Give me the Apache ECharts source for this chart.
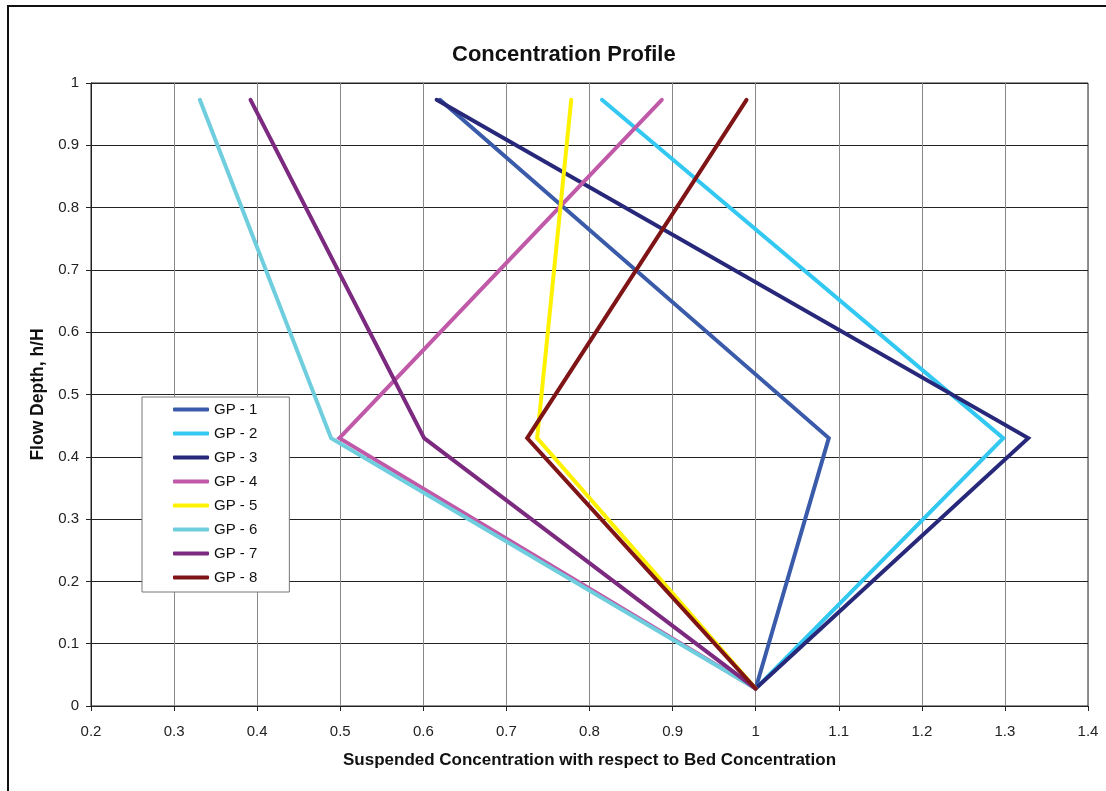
<!DOCTYPE html>
<html>
<head>
<meta charset="utf-8">
<script src="https://cdn.jsdelivr.net/npm/echarts@6/dist/echarts.min.js"></script>
<style>
html,body{margin:0;padding:0;background:#fff;}
#chart{width:1106px;height:791px;}
</style>
</head>
<body>
<div id="chart"></div>
<script>
var seriesNames = ['GP - 1','GP - 2','GP - 3','GP - 4','GP - 5','GP - 6','GP - 7','GP - 8'];
var depths = [0.973, 0.43, 0.028];
var gp1 = [0.620, 1.088, 1.0];
var gp2 = [0.815, 1.298, 1.0];
var gp3 = [0.616, 1.328, 1.0];
var gp4 = [0.887, 0.499, 1.0];
var gp5 = [0.778, 0.737, 1.0];
var gp6 = [0.331, 0.489, 1.0];
var gp7 = [0.392, 0.601, 1.0];
var gp8 = [0.989, 0.725, 1.0];
var seriesValues = [gp1, gp2, gp3, gp4, gp5, gp6, gp7, gp8];
var colors = ['#3A5BA9','#33C8F2','#27287A','#C059A8','#FFF200','#6ECEDD','#7B2A80','#7F1416'];

var chart = echarts.init(document.getElementById('chart'));
var font = 'Liberation Sans, Arial, sans-serif';

var series = seriesNames.map(function(name, i){
  return {
    name: name,
    type: 'line',
    data: seriesValues[i].map(function(v, j){ return [v, depths[j]]; }),
    showSymbol: false,
    symbol: 'none',
    color: colors[i],
    lineStyle: {width: 4, color: colors[i], cap: 'round', join: 'miter'},
    animation: false
  };
});

chart.setOption({
  animation: false,
  backgroundColor: '#fff',
  textStyle: {fontFamily: font},
  title: {
    text: 'Concentration Profile',
    left: 447, top: 39,
    textStyle: {fontSize: 22, fontWeight: 'bold', color: '#111', fontFamily: font}
  },
  graphic: [{
    type: 'rect', z: 100, silent: true,
    shape: {x: 8, y: 6, width: 1200, height: 900},
    style: {fill: 'none', stroke: '#111', lineWidth: 2}
  }],
  legend: {
    orient: 'vertical',
    left: 142, top: 397,
    data: seriesNames,
    icon: 'roundRect',
    itemWidth: 36, itemHeight: 4,
    itemGap: 9,
    itemTextGap: -2,
    padding: [5, 32, 7, 31],
    backgroundColor: '#fff',
    borderColor: '#777', borderWidth: 1,
    textStyle: {fontSize: 15, color: '#111', fontFamily: font}
  },
  grid: {
    left: 91, top: 83, right: 1106 - 1088, bottom: 791 - 706,
    show: true, borderColor: '#222', borderWidth: 1, backgroundColor: 'transparent'
  },
  xAxis: {
    type: 'value', min: 0.2, max: 1.4, interval: 0.1,
    name: 'Suspended Concentration with respect to Bed Concentration',
    nameLocation: 'middle', nameGap: 46,
    nameTextStyle: {fontSize: 17, fontWeight: 'bold', color: '#111', fontFamily: font},
    axisLine: {show: true, lineStyle: {color: '#222', width: 1}},
    axisTick: {show: true, length: 5, lineStyle: {color: '#222'}},
    axisLabel: {fontSize: 15, color: '#222', margin: 18, fontFamily: font,
      formatter: function(v){ return (Math.round(v*10)/10).toString(); }},
    splitLine: {show: true, lineStyle: {color: '#888', width: 1}}
  },
  yAxis: {
    type: 'value', min: 0, max: 1, interval: 0.1,
    name: 'Flow Depth, h/H',
    nameLocation: 'middle', nameGap: 43,
    nameTextStyle: {fontSize: 17.5, fontWeight: 'bold', color: '#111', fontFamily: font},
    axisLine: {show: true, lineStyle: {color: '#222', width: 1}},
    axisTick: {show: true, length: 5, lineStyle: {color: '#222'}},
    axisLabel: {fontSize: 15, color: '#222', margin: 12, fontFamily: font,
      formatter: function(v){ return (Math.round(v*10)/10).toString(); }},
    splitLine: {show: true, lineStyle: {color: '#222', width: 1}}
  },
  series: series
});
</script>
</body>
</html>
